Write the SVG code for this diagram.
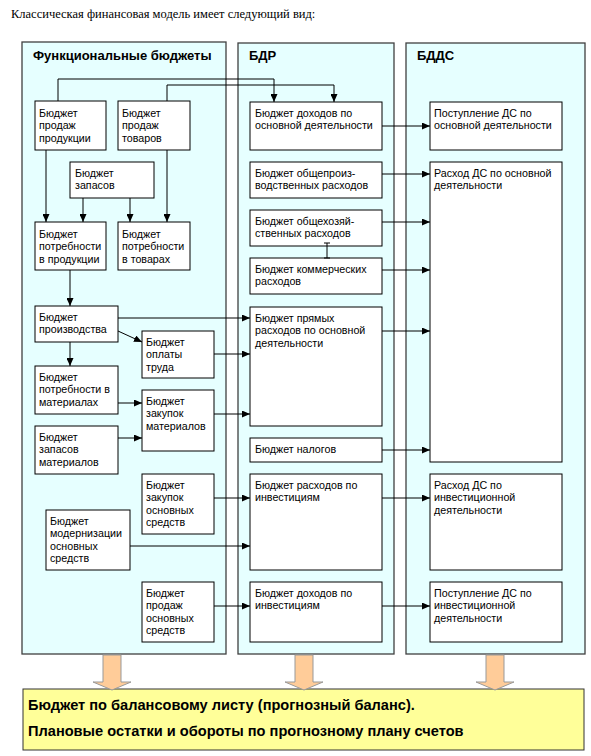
<svg xmlns="http://www.w3.org/2000/svg" width="591" height="756" viewBox="0 0 591 756">
<defs>
<marker id="ah" markerWidth="8" markerHeight="7" refX="8" refY="3.5" orient="auto" markerUnits="userSpaceOnUse">
<path d="M0,0 L8,3.5 L0,7 z" fill="#000"/>
</marker>
<style>
.panel{fill:#E6FFFF;stroke:#404040;stroke-width:1.3}
.box{fill:#fff;stroke:#000;stroke-width:1}
.t{font-family:"Liberation Sans",Arial,sans-serif;font-size:10.7px;fill:#000}
.h{font-family:"Liberation Sans",Arial,sans-serif;font-size:13px;font-weight:bold;fill:#000}
.y{font-family:"Liberation Sans",Arial,sans-serif;font-size:14.6px;font-weight:bold;fill:#000}
.c{fill:none;stroke:#000;stroke-width:1;marker-end:url(#ah)}
.l{fill:none;stroke:#000;stroke-width:1}
.big{fill:#FFCC99;stroke:#999;stroke-width:1}
</style>
</defs>
<rect width="591" height="756" fill="#fff"/>
<text x="11" y="18" font-family="Liberation Serif, Times New Roman, serif" font-size="12.5" fill="#000">Классическая финансовая модель имеет следующий вид:</text>

<g id="panel-func"><rect class="panel" x="22" y="42" width="204" height="612"/><text class="h" x="33" y="60">Функциональные бюджеты</text></g>
<g id="panel-bdr"><rect class="panel" x="238" y="43" width="156" height="611"/><text class="h" x="249" y="60">БДР</text></g>
<g id="panel-bdds"><rect class="panel" x="406" y="43" width="179" height="611"/><text class="h" x="417" y="60">БДДС</text></g>

<g id="n-prod-sales"><rect class="box" x="35" y="101" width="71" height="49"/><text class="t" x="39" y="117"><tspan x="39">Бюджет</tspan><tspan x="39" dy="12.3">продаж</tspan><tspan x="39" dy="12.3">продукции</tspan></text></g>
<g id="n-goods-sales"><rect class="box" x="118" y="101" width="72" height="49"/><text class="t" x="122" y="117"><tspan x="122">Бюджет</tspan><tspan x="122" dy="12.3">продаж</tspan><tspan x="122" dy="12.3">товаров</tspan></text></g>
<g id="n-stock"><rect class="box" x="70" y="162" width="84" height="36"/><text class="t" x="75" y="177"><tspan x="75">Бюджет</tspan><tspan x="75" dy="12.3">запасов</tspan></text></g>
<g id="n-prod-need"><rect class="box" x="35" y="222" width="71" height="48"/><text class="t" x="39" y="238"><tspan x="39">Бюджет</tspan><tspan x="39" dy="12.3">потребности</tspan><tspan x="39" dy="12.3">в продукции</tspan></text></g>
<g id="n-goods-need"><rect class="box" x="118" y="222" width="72" height="48"/><text class="t" x="122" y="238"><tspan x="122">Бюджет</tspan><tspan x="122" dy="12.3">потребности</tspan><tspan x="122" dy="12.3">в товарах</tspan></text></g>
<g id="n-production"><rect class="box" x="35" y="306" width="83" height="36"/><text class="t" x="39" y="321"><tspan x="39">Бюджет</tspan><tspan x="39" dy="12.3">производства</tspan></text></g>
<g id="n-labor"><rect class="box" x="142" y="331" width="72" height="47"/><text class="t" x="146" y="346"><tspan x="146">Бюджет</tspan><tspan x="146" dy="12.3">оплаты</tspan><tspan x="146" dy="12.3">труда</tspan></text></g>
<g id="n-mat-need"><rect class="box" x="35" y="366" width="83" height="48"/><text class="t" x="39" y="381"><tspan x="39">Бюджет</tspan><tspan x="39" dy="12.3">потребности в</tspan><tspan x="39" dy="12.3">материалах</tspan></text></g>
<g id="n-mat-purch"><rect class="box" x="142" y="390" width="72" height="61"/><text class="t" x="146" y="405"><tspan x="146">Бюджет</tspan><tspan x="146" dy="12.3">закупок</tspan><tspan x="146" dy="12.3">материалов</tspan></text></g>
<g id="n-mat-stock"><rect class="box" x="35" y="426" width="83" height="48"/><text class="t" x="39" y="441"><tspan x="39">Бюджет</tspan><tspan x="39" dy="12.3">запасов</tspan><tspan x="39" dy="12.3">материалов</tspan></text></g>
<g id="n-fa-purch"><rect class="box" x="142" y="474" width="72" height="60"/><text class="t" x="146" y="489"><tspan x="146">Бюджет</tspan><tspan x="146" dy="12.3">закупок</tspan><tspan x="146" dy="12.3">основных</tspan><tspan x="146" dy="12.3">средств</tspan></text></g>
<g id="n-fa-modern"><rect class="box" x="46" y="510" width="84" height="60"/><text class="t" x="50" y="525"><tspan x="50">Бюджет</tspan><tspan x="50" dy="12.3">модернизации</tspan><tspan x="50" dy="12.3">основных</tspan><tspan x="50" dy="12.3">средств</tspan></text></g>
<g id="n-fa-sales"><rect class="box" x="142" y="582" width="72" height="60"/><text class="t" x="146" y="597"><tspan x="146">Бюджет</tspan><tspan x="146" dy="12.3">продаж</tspan><tspan x="146" dy="12.3">основных</tspan><tspan x="146" dy="12.3">средств</tspan></text></g>

<g id="n-bdr-income"><rect class="box" x="250" y="102" width="132" height="48"/><text class="t" x="255" y="117"><tspan x="255">Бюджет доходов по</tspan><tspan x="255" dy="12.3">основной деятельности</tspan></text></g>
<g id="n-bdr-ovh"><rect class="box" x="250" y="162" width="132" height="36"/><text class="t" x="255" y="177"><tspan x="255">Бюджет общепроиз-</tspan><tspan x="255" dy="12.3">водственных расходов</tspan></text></g>
<g id="n-bdr-admin"><rect class="box" x="250" y="210" width="132" height="36"/><text class="t" x="255" y="225"><tspan x="255">Бюджет общехозяй-</tspan><tspan x="255" dy="12.3">ственных расходов</tspan></text></g>
<g id="n-bdr-comm"><rect class="box" x="250" y="258" width="132" height="36"/><text class="t" x="255" y="273"><tspan x="255">Бюджет коммерческих</tspan><tspan x="255" dy="12.3">расходов</tspan></text></g>
<g id="n-bdr-direct"><rect class="box" x="250" y="307" width="132" height="119"/><text class="t" x="255" y="322"><tspan x="255">Бюджет прямых</tspan><tspan x="255" dy="12.3">расходов по основной</tspan><tspan x="255" dy="12.3">деятельности</tspan></text></g>
<g id="n-bdr-tax"><rect class="box" x="250" y="438" width="132" height="24"/><text class="t" x="255" y="453">Бюджет налогов</text></g>
<g id="n-bdr-invexp"><rect class="box" x="250" y="474" width="132" height="96"/><text class="t" x="255" y="489"><tspan x="255">Бюджет расходов по</tspan><tspan x="255" dy="12.3">инвестициям</tspan></text></g>
<g id="n-bdr-invinc"><rect class="box" x="250" y="582" width="132" height="60"/><text class="t" x="255" y="597"><tspan x="255">Бюджет доходов по</tspan><tspan x="255" dy="12.3">инвестициям</tspan></text></g>

<g id="n-bdds-in-op"><rect class="box" x="430" y="102" width="132" height="48"/><text class="t" x="434" y="117"><tspan x="434">Поступление ДС по</tspan><tspan x="434" dy="12.3">основной деятельности</tspan></text></g>
<g id="n-bdds-out-op"><rect class="box" x="430" y="162" width="132" height="300"/><text class="t" x="434" y="177"><tspan x="434">Расход ДС по основной</tspan><tspan x="434" dy="12.3">деятельности</tspan></text></g>
<g id="n-bdds-out-inv"><rect class="box" x="430" y="474" width="132" height="96"/><text class="t" x="434" y="489"><tspan x="434">Расход ДС по</tspan><tspan x="434" dy="12.3">инвестиционной</tspan><tspan x="434" dy="12.3">деятельности</tspan></text></g>
<g id="n-bdds-in-inv"><rect class="box" x="430" y="582" width="132" height="60"/><text class="t" x="434" y="597"><tspan x="434">Поступление ДС по</tspan><tspan x="434" dy="12.3">инвестиционной</tspan><tspan x="434" dy="12.3">деятельности</tspan></text></g>

<g id="connectors">
<path class="c" d="M58,101 V79 H274 V102"/>
<path class="c" d="M167,101 V85 H334 V102"/>
<path class="c" d="M46,150 V222"/>
<path class="c" d="M83,198 V222"/>
<path class="c" d="M130,198 V222"/>
<path class="c" d="M167,150 V222"/>
<path class="c" d="M70,270 V306"/>
<path class="c" d="M118,331 L142,342"/>
<path class="c" d="M70,342 V366"/>
<path class="c" d="M118,403 H142"/>
<path class="c" d="M118,438 H142"/>
<path class="c" d="M118,318 H250"/>
<path class="c" d="M214,354 H250"/>
<path class="c" d="M214,414 H250"/>
<path class="c" d="M214,498 H250"/>
<path class="c" d="M130,546 H250"/>
<path class="c" d="M214,606 H250"/>
<path class="c" d="M382,126 H430"/>
<path class="c" d="M382,174 H430"/>
<path class="c" d="M382,222 H430"/>
<path class="c" d="M382,270 H430"/>
<path class="c" d="M382,331 H430"/>
<path class="c" d="M382,450 H430"/>
<path class="c" d="M382,498 H430"/>
<path class="c" d="M382,606 H430"/>
</g>

<path class="l" d="M327,243 V258 M324,243 H330 M324,258 H330" stroke-width="0.8"/>

<g id="n-balance">
<rect x="23" y="689" width="561" height="61" fill="#FFFF99" stroke="#333" stroke-width="1"/>
<text class="y" x="28" y="710">Бюджет по балансовому листу (прогнозный баланс).</text>
<text class="y" x="28" y="736">Плановые остатки и обороты по прогнозному плану счетов</text>
</g>
<g id="big-arrows">
<path class="big" d="M103,655 H121 V682 H131 L112,690 L93,682 H103 Z"/>
<path class="big" d="M295,655 H313 V682 H323 L304,690 L285,682 H295 Z"/>
<path class="big" d="M486,655 H504 V682 H514 L495,690 L476,682 H486 Z"/>
</g>
</svg>
